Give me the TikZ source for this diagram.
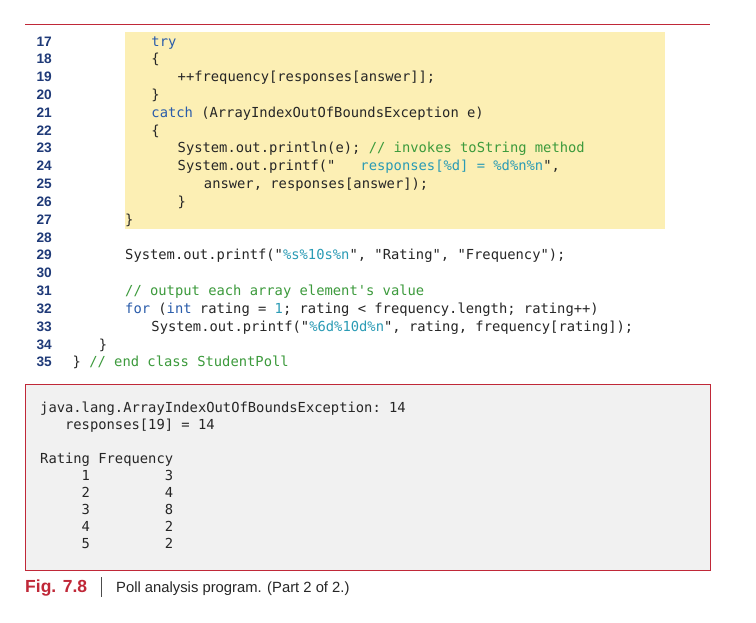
\documentclass[tikz,border=0pt]{standalone}
\usepackage{fontspec}
\setmainfont{Liberation Sans}
\setmonofont{DejaVu Sans Mono}
\definecolor{ln}{HTML}{1F3A78}
\definecolor{kw}{HTML}{2A5CAA}
\definecolor{cm}{HTML}{3C9A3C}
\definecolor{st}{HTML}{2A9BB5}
\definecolor{rd}{HTML}{C02838}
\definecolor{yb}{HTML}{FCEFB4}
\definecolor{gb}{HTML}{F1F1F1}
\newcommand{\K}[1]{\textcolor{kw}{#1}}
\newcommand{\C}[1]{\textcolor{cm}{#1}}
\newcommand{\Q}[1]{\textcolor{st}{#1}}
\begin{document}
\begin{tikzpicture}[x=1pt,y=-1pt,
  num/.style={anchor=base east,inner sep=0pt,font=\fontsize{13.7}{14}\selectfont\bfseries,text=ln},
  code/.style={anchor=base west,inner sep=0pt,font=\fontsize{13.8}{14}\ttfamily,text=black!85},
  outtext/.style={anchor=base west,inner sep=0pt,font=\fontsize{13.8}{14}\ttfamily,text=black!85}]
\useasboundingbox (0,0) rectangle (756,622);
\fill[white] (0,0) rectangle (756,622);
\draw[rd,line width=0.8pt] (25,24) -- (710,24);
\fill[yb] (125,32) rectangle (665,229);
\foreach \n [count=\i from 0] in {17,...,35}
  \node[num] (n\n) at (52,{46+\i*17.83}) {\n};
\def\cx#1{125+#1*8.75}
\def\cy#1{46+(#1-17)*17.83}
\node[code] (c17) at ({\cx{3}},{\cy{17}}) {\K{try}};
\node[code] (c18) at ({\cx{3}},{\cy{18}}) {\{};
\node[code] (c19) at ({\cx{6}},{\cy{19}}) {++frequency[responses[answer]];};
\node[code] (c20) at ({\cx{3}},{\cy{20}}) {\}};
\node[code] (c21) at ({\cx{3}},{\cy{21}}) {\K{catch} (ArrayIndexOutOfBoundsException e)};
\node[code] (c22) at ({\cx{3}},{\cy{22}}) {\{};
\node[code] (c23) at ({\cx{6}},{\cy{23}}) {System.out.println(e);~\C{//~invokes~toString~method}};
\node[code] (c24) at ({\cx{6}},{\cy{24}}) {System.out.printf("\Q{~~~responses[\%d]~=~\%d\%n\%n}",};
\node[code] (c25) at ({\cx{9}},{\cy{25}}) {answer,~responses[answer]);};
\node[code] (c26) at ({\cx{6}},{\cy{26}}) {\}};
\node[code] (c27) at ({\cx{0}},{\cy{27}}) {\}};
\node[code] (c29) at ({\cx{0}},{\cy{29}}) {System.out.printf("\Q{\%s\%10s\%n}",~"Rating",~"Frequency");};
\node[code] (c31) at ({\cx{0}},{\cy{31}}) {\C{//~output~each~array~element's~value}};
\node[code] (c32) at ({\cx{0}},{\cy{32}}) {\K{for}~(\K{int}~rating~=~\Q{1};~rating~<~frequency.length;~rating++)};
\node[code] (c33) at ({\cx{3}},{\cy{33}}) {System.out.printf("\Q{\%6d\%10d\%n}",~rating,~frequency[rating]);};
\node[code] (c34) at ({\cx{-3}},{\cy{34}}) {\}};
\node[code] (c35) at ({\cx{-6}},{\cy{35}}) {\}~\C{//~end~class~StudentPoll}};
\draw[rd,fill=gb,line width=0.8pt] (25,384) rectangle (710,570);
\def\oy#1{412+#1*17}
\node[outtext] (o1) at (40,{\oy{0}}) {java.lang.ArrayIndexOutOfBoundsException:~14};
\node[outtext] (o2) at (40,{\oy{1}}) {~~~responses[19]~=~14};
\node[outtext] (o4) at (40,{\oy{3}}) {Rating~Frequency};
\node[outtext] (o5) at (40,{\oy{4}}) {~~~~~1~~~~~~~~~3};
\node[outtext] (o6) at (40,{\oy{5}}) {~~~~~2~~~~~~~~~4};
\node[outtext] (o7) at (40,{\oy{6}}) {~~~~~3~~~~~~~~~8};
\node[outtext] (o8) at (40,{\oy{7}}) {~~~~~4~~~~~~~~~2};
\node[outtext] (o9) at (40,{\oy{8}}) {~~~~~5~~~~~~~~~2};
\node[anchor=base west,inner sep=0pt,font=\fontsize{17.5}{18}\selectfont\bfseries,text=rd] (fig) at (25,592) {Fig. 7.8};
\draw[black!70,line width=0.7pt] (101,577) -- (101,597);
\node[anchor=base west,inner sep=0pt,font=\fontsize{14.8}{15}\selectfont,text=black!85] (cap) at (116,592) {Poll analysis program. (Part 2 of 2.)};
\end{tikzpicture}
\end{document}
